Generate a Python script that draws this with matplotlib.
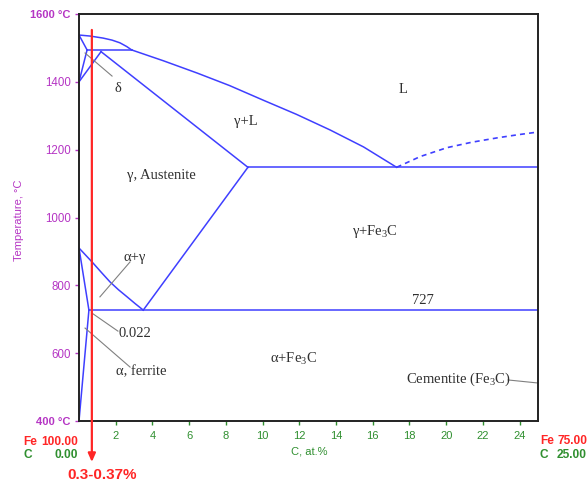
import matplotlib
matplotlib.use("Agg")
import matplotlib.pyplot as plt
import numpy as np

plt.rcParams['mathtext.fontset'] = 'custom'
plt.rcParams['mathtext.rm'] = 'Liberation Serif'
plt.rcParams['mathtext.it'] = 'Liberation Serif:italic'

# ---- data: phase boundaries (C at.%, T °C) ----
delta_sol_c = [0, 0.44]; delta_sol_t = [1538, 1494]
delta_gam_c = [0.44, 0]; delta_gam_t = [1494, 1400]
gam_delta_c = [0, 1.2]; gam_delta_t = [1400, 1489]
perit_c = [0.44, 2.87]; perit_t = [1494, 1494]
liq_top_c = [0, 0.6, 1.31, 1.8, 2.23, 2.6, 2.87]
liq_top_t = [1538, 1535, 1529, 1523, 1515, 1504, 1494]
liq_c = [2.87, 4.6, 6.43, 8.2, 10.03, 11.85, 13.68, 15.5, 17.3]
liq_t = [1494, 1462, 1426, 1389, 1346, 1304, 1258, 1208, 1148]
gam_sol_c = [1.2, 9.2]; gam_sol_t = [1489, 1148]
eut_c = [9.2, 25]; eut_t = [1148, 1148]
liq_cem_c = [17.3, 18.6, 20.05, 21.4, 22.8, 23.9, 25]
liq_cem_t = [1148, 1180, 1206, 1222, 1235, 1244, 1252]
acm_c = [9.2, 3.5]; acm_t = [1148, 727]
a3_c = [0, 0.38, 0.76, 1.22, 1.69, 2.15, 2.62, 3.06, 3.5]
a3_t = [910, 888, 866, 838, 810, 787, 766, 746, 727]
eutd_c = [0.54, 25]; eutd_t = [727, 727]
alpha_c = [0, 0.54]; alpha_t = [910, 727]
fsolv_c = [0.54, 0.1, 0]; fsolv_t = [727, 461, 400]

red_c = 0.7; red_top = 1553; red_tip = 279

xticks = list(range(2, 25, 2))
yticks = [400, 600, 800, 1000, 1200, 1400, 1600]
ylabels = ['400 °C', '600', '800', '1000', '1200', '1400', '1600 °C']

labels = [("δ", 2.12, 1379), ("L", 17.65, 1376), ("γ+L", 9.10, 1282),
          ("γ, Austenite", 4.47, 1125), ("γ+Fe$_3$C", 16.12, 960),
          ("α+γ", 3.05, 881), ("727", 18.74, 754), ("0.022", 3.05, 659),
          ("α, ferrite", 3.38, 544), ("α+Fe$_3$C", 11.71, 583),
          ("Cementite (Fe$_3$C)", 20.64, 524)]
leaders = [((0.33, 1485), (1.80, 1417)), ((1.14, 766), (2.78, 869)),
           ((0.71, 718), (2.12, 665)), ((0.33, 674), (2.78, 559)),
           ((23.37, 521), (25, 512))]

BLUE = '#3f3fff'
MAG = '#b535c4'
GRN = '#2f8f2f'
RED = '#ff2626'
W, H = 587, 482

fig = plt.figure(figsize=(W/100, H/100), dpi=100)
ax = fig.add_axes([79/W, 1-421/H, (538-79)/W, (421-14)/H])
ax.set_xlim(0, 25)
ax.set_ylim(400, 1600)

solid = [(delta_sol_c, delta_sol_t), (delta_gam_c, delta_gam_t), (gam_delta_c, gam_delta_t),
         (perit_c, perit_t), (liq_top_c, liq_top_t), (liq_c, liq_t), (gam_sol_c, gam_sol_t),
         (eut_c, eut_t), (acm_c, acm_t), (a3_c, a3_t), (eutd_c, eutd_t),
         (alpha_c, alpha_t), (fsolv_c, fsolv_t)]
for c, t in solid:
    ax.plot(c, t, color=BLUE, lw=1.1, solid_joinstyle='round')
ax.plot(liq_cem_c, liq_cem_t, color=BLUE, lw=1.2, ls=(0, (3, 2.5)))

for (a, b) in leaders:
    ax.plot([a[0], b[0]], [a[1], b[1]], color='#808080', lw=0.8)

for s, x, y in labels:
    ax.text(x, y, s, ha='center', va='center', fontsize=10.5, color='#303030',
            family='Liberation Serif')

# red line with arrow
ax.annotate('', xy=(red_c, red_tip), xytext=(red_c, red_top),
            arrowprops=dict(arrowstyle='-|>,head_length=0.5,head_width=0.22',
                            color=RED, lw=1.6, shrinkA=0, shrinkB=0),
            annotation_clip=False)
fig.text(102/W, 1-475/H, '0.3-0.37%', ha='center', va='center', color=RED,
         fontsize=11, fontweight='bold', family='Liberation Sans')

for sp in ax.spines.values():
    sp.set_color('#222222')
    sp.set_linewidth(1.4)

ax.set_xticks(xticks)
ax.set_xticklabels([str(v) for v in xticks])
ax.set_yticks(yticks)
ax.set_yticklabels(ylabels)
ax.tick_params(axis='x', colors=GRN, length=3, width=1, pad=4, labelsize=8)
ax.tick_params(axis='y', colors=MAG, length=3, width=1, pad=3, labelsize=8.3)
for lab in ax.get_xticklabels() + ax.get_yticklabels():
    lab.set_family('Liberation Sans')
for lab in ax.get_yticklabels():
    if '°C' in lab.get_text():
        lab.set_fontweight('bold')
        lab.set_fontsize(8)

fig.text(19/W, 1-220/H, 'Temperature, °C', rotation=90, ha='center', va='center',
         color=MAG, fontsize=8, family='Liberation Sans')
fig.text(309/W, 1-452/H, 'C, at.%', ha='center', va='center', color=GRN,
         fontsize=8, family='Liberation Sans')

kw = dict(va='center', fontsize=8.6, fontweight='bold', family='Liberation Sans')
fig.text(23/W, 1-442/H, 'Fe', ha='left', color=RED, **kw)
fig.text(78/W, 1-442/H, '100.00', ha='right', color=RED, **kw)
fig.text(23/W, 1-455/H, 'C', ha='left', color=GRN, **kw)
fig.text(78/W, 1-455/H, '0.00', ha='right', color=GRN, **kw)
fig.text(540/W, 1-441/H, 'Fe', ha='left', color=RED, **kw)
fig.text(587/W, 1-441/H, '75.00', ha='right', color=RED, **kw)
fig.text(540/W, 1-455/H, 'C', ha='left', color=GRN, **kw)
fig.text(587/W, 1-455/H, '25.00', ha='right', color=GRN, **kw)

fig.savefig('out.png', dpi=100)
